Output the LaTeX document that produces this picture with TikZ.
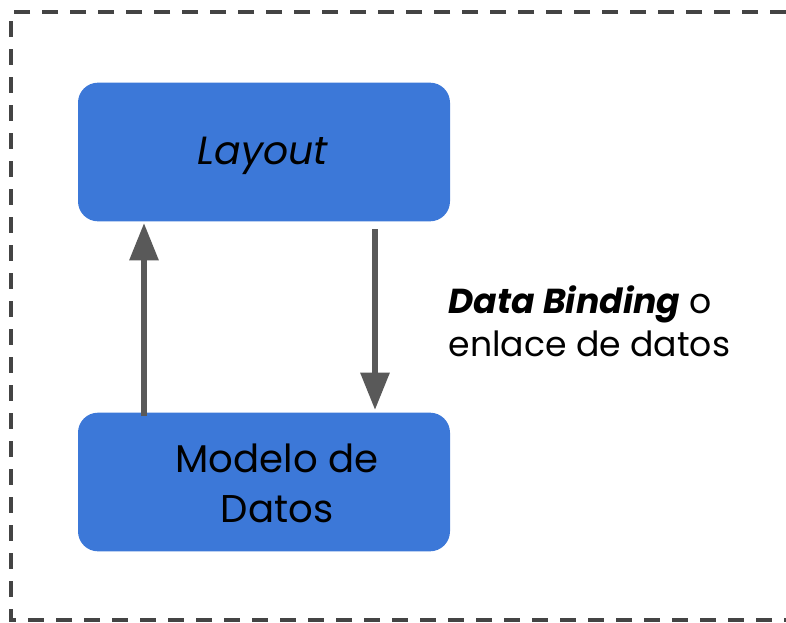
\documentclass[tikz,border=0pt]{standalone}
\usepackage{fontspec}
\setmainfont{Poppins}
\usetikzlibrary{arrows.meta}
\definecolor{boxblue}{HTML}{3C78D8}
\definecolor{arrowgray}{HTML}{595959}
\definecolor{framegray}{HTML}{444444}
\tikzset{
  bloque/.style={fill=boxblue,rounded corners=15pt,minimum width=279pt,minimum height=104pt,inner sep=0pt},
  flecha/.style={draw=arrowgray,line width=4.5pt,-{Triangle[width=21pt,length=28pt]}}
}
\begin{document}
\begin{tikzpicture}[x=0.75pt,y=-0.75pt]
    \useasboundingbox (0,0) rectangle (786,622);
    
    % marco punteado
    \draw[framegray,line width=3pt,dash pattern=on 12pt off 9pt] (786,12) -- (11,12) -- (11,620) -- (786,620);
    
    \node[bloque] (L) at (264,152) {};
    \node[bloque] (M) at (264,482) {};
    \node[font=\fontsize{29.5}{35}\selectfont\itshape] (LT) at (263,156) {Layout};
    \node[align=center,font=\fontsize{29}{37.5}\selectfont] (MT) at (277,483) {Modelo de\\Datos};
    
    \coordinate (A1) at (144,416);
    \coordinate (A2) at (144,223);
    \coordinate (B1) at (375,229);
    \coordinate (B2) at (375,410);
    \draw[flecha] (A1) -- (A2);
    \draw[flecha] (B1) -- (B2);
    
    \node[align=left,anchor=west,font=\fontsize{26}{32}\selectfont] (T) at (444,321) {\textbf{\textit{Data Binding}} o\\enlace de datos};
    
\end{tikzpicture}
\end{document}
